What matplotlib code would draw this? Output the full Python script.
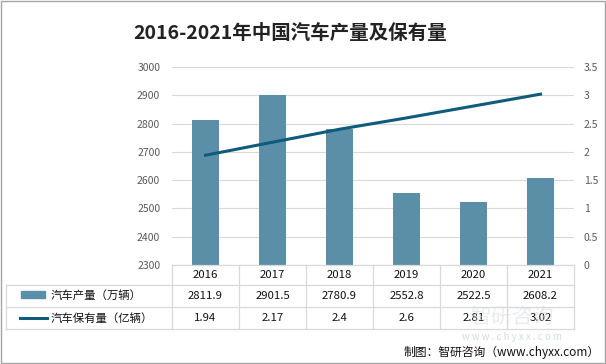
import matplotlib
matplotlib.use("Agg")
from matplotlib import pyplot as plt
from matplotlib.lines import Line2D
from matplotlib.patches import Rectangle
from matplotlib.transforms import blended_transform_factory

plt.rcParams["font.family"] = ["Noto Sans CJK SC", "DejaVu Sans"]

years = ["2016", "2017", "2018", "2019", "2020", "2021"]
production = [2811.9, 2901.5, 2780.9, 2552.8, 2522.5, 2608.2]
ownership = [1.94, 2.17, 2.4, 2.6, 2.81, 3.02]
production_label = "汽车产量（万辆）"
ownership_label = "汽车保有量（亿辆）"
title = "2016-2021年中国汽车产量及保有量"
source = "制图：智研咨询（www.chyxx.com）"

BAR_COLOR = "#5B8FA8"
LINE_COLOR = "#0E5B7C"
GRID = "#D9D9D9"
TICK = "#595959"

W, H = 606, 364
fig = plt.figure(figsize=(W / 100, H / 100), dpi=100)


def fx(px):
    return px / W


def fy(py):
    return 1 - py / H


# plot area in pixel coords
left, right, top, bottom = 172, 574, 67, 265
ax = fig.add_axes([fx(left), fy(bottom), fx(right - left), fy(top) - fy(bottom)])
ax2 = ax.twinx()

x = list(range(len(years)))
ax.bar(x, [p - 2300 for p in production], bottom=2300, width=0.4, color=BAR_COLOR, zorder=2)
ax.set_xlim(-0.5, len(years) - 0.5)
ax.set_ylim(2300, 3000)
ax.set_yticks(range(2300, 3001, 100))
ax.grid(axis="y", color=GRID, linewidth=0.8, zorder=0)
ax.set_xticks([])

ax2.plot(x, ownership, color=LINE_COLOR, linewidth=2.2, zorder=3)
ax2.set_ylim(0, 3.5)
ax2.set_yticks([0, 0.5, 1, 1.5, 2, 2.5, 3, 3.5])
ax2.set_yticklabels(["0", "0.5", "1", "1.5", "2", "2.5", "3", "3.5"])

for a in (ax, ax2):
    for s in a.spines.values():
        s.set_visible(False)
    a.tick_params(axis="y", length=0, labelsize=7.5, labelcolor=TICK)
ax.tick_params(axis="y", pad=8.5)
ax2.tick_params(axis="y", pad=7)

# data table under the plot
row_y = [265, 285, 307, 329]
table_left = 6
line_kw = dict(color=GRID, linewidth=0.9, transform=fig.transFigure)
fig.add_artist(Line2D([fx(left), fx(right)], [fy(row_y[0])] * 2, **line_kw))
for yy in row_y[1:]:
    fig.add_artist(Line2D([fx(table_left), fx(right)], [fy(yy)] * 2, **line_kw))
fig.add_artist(Line2D([fx(table_left)] * 2, [fy(row_y[1]), fy(row_y[3])], **line_kw))
col_w = (right - left) / len(years)
for i in range(len(years) + 1):
    xx = left + i * col_w
    fig.add_artist(Line2D([fx(xx)] * 2, [fy(row_y[0]), fy(row_y[3])], **line_kw))

trans = blended_transform_factory(ax.transData, fig.transFigure)
rows = [years,
        [f"{v:.1f}" for v in production],
        [f"{v:g}" for v in ownership]]
for r, vals in enumerate(rows):
    yc = fy((row_y[r] + row_y[r + 1]) / 2)
    for i, v in enumerate(vals):
        ax.text(i, yc, v, transform=trans, ha="center", va="center",
                fontsize=8.2, color="#111111", clip_on=False, zorder=5)

# legend cells
fig.add_artist(Rectangle((fx(21), fy(298)), fx(24), fy(291) - fy(298),
                         color=BAR_COLOR, transform=fig.transFigure))
fig.text(fx(51), fy(296), production_label, ha="left", va="center", fontsize=8.2, color="#111111")
fig.add_artist(Line2D([fx(20), fx(47)], [fy(318)] * 2, color=LINE_COLOR, linewidth=2.2,
                      transform=fig.transFigure))
fig.text(fx(51), fy(318), ownership_label, ha="left", va="center", fontsize=8.2, color="#111111")

# title, watermark and source
fig.text(fx(290), fy(33), title, ha="center", va="center", fontsize=14, fontweight="bold",
         color="#222222")
fig.text(fx(512), fy(317), "智研咨询", ha="center", va="center", fontsize=15,
         color="#D3DBE1", alpha=0.5, zorder=0)
fig.text(fx(512), fy(337), "w w w . c h y x x . c o m", ha="center", va="center",
         fontsize=7, color="#C9D3DA", alpha=0.8, zorder=0)
fig.text(fx(600), fy(352), source, ha="right", va="center", fontsize=8.5, color="#111111")

# outer border
fig.add_artist(Rectangle((0.001, 0.002), 0.997, 0.996, fill=False, edgecolor="#A6A6A6",
                         linewidth=1, transform=fig.transFigure))

fig.savefig("out.png", dpi=100)
